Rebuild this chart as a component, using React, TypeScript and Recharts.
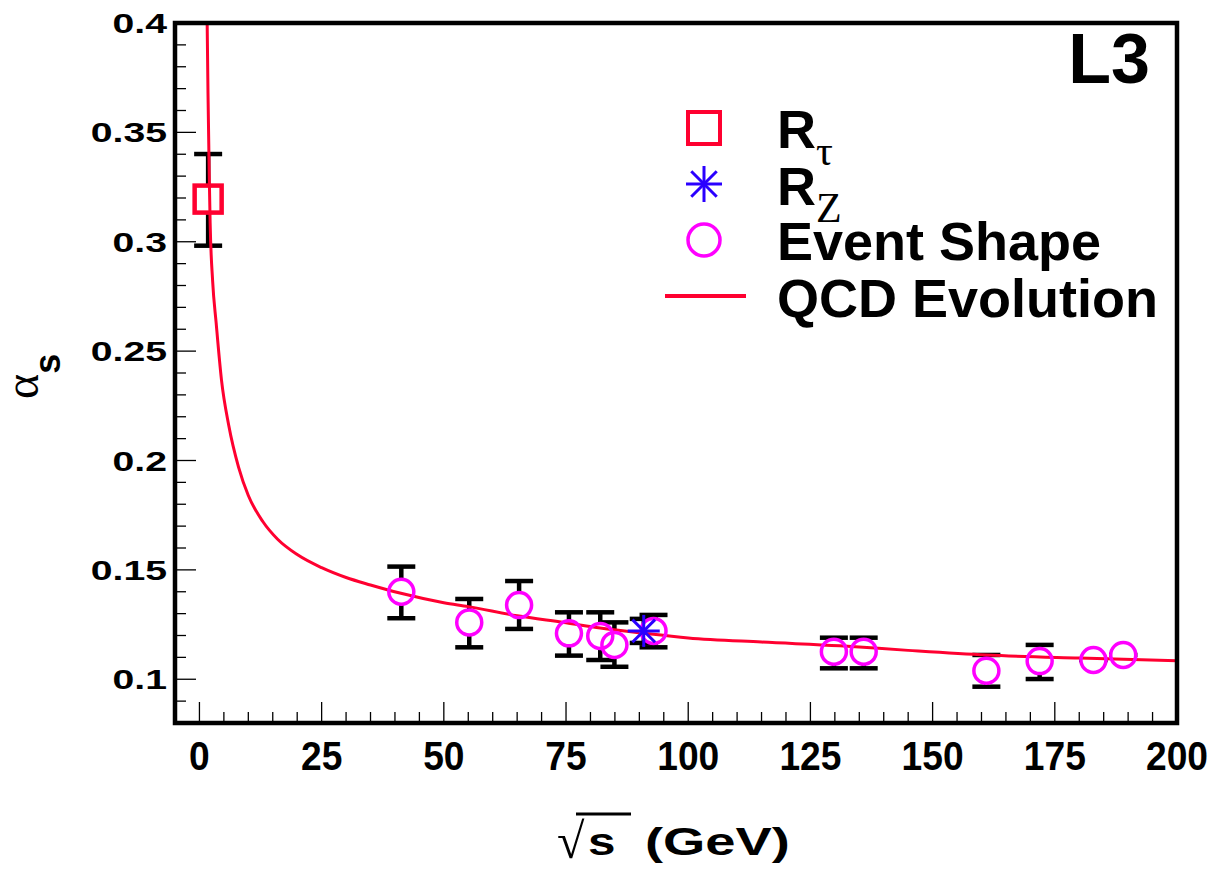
import { ComposedChart, Line, Scatter, XAxis, YAxis, ErrorBar, ReferenceArea, Legend, Label } from 'recharts';

const W = 1211;
const H = 874;
const PLOT_L = 175;
const PLOT_T = 23;
const PLOT_R = 1177;
const PLOT_B = 723;

const SANS = '"Liberation Sans", Arial, Helvetica, sans-serif';
const SERIF = '"Liberation Serif", "Times New Roman", serif';

const RED = '#ff0030';
const BLUE = '#2a00ff';
const MAGENTA = '#ff00ff';

// R_tau point
const tauX = [1.78];
const tauY = [0.3195];
const tauErrLo = [0.0213];
const tauErrHi = [0.0206];

// R_Z point
const rzX = [90.9];
const rzY = [0.1221];
const rzErrLo = [0.0055];
const rzErrHi = [0.0055];

// event shape points
const esX = [41.3, 55.2, 65.4, 75.6, 82.0, 84.9, 92.9, 129.8, 135.9, 161.0, 171.9, 182.9, 189.0];
const esY = [0.140, 0.126, 0.1339, 0.121, 0.1198, 0.1157, 0.1221, 0.1126, 0.1126, 0.1039, 0.1083, 0.1088, 0.1111];
const esErrHi = [0.0115, 0.0107, 0.011, 0.0096, 0.0108, 0.0103, 0.0073, 0.0064, 0.0064, 0.0072, 0.0074, 0, 0];
const esErrLo = [0.0121, 0.0114, 0.0109, 0.0102, 0.011, 0.01, 0.0075, 0.0076, 0.0076, 0.0073, 0.0082, 0, 0];

// QCD evolution curve
const qcdX = [1.58, 1.75, 2.0, 2.19, 2.7, 3.42, 4.5, 6, 8, 10, 13, 16, 20, 25, 30, 35, 41, 50, 55, 65, 75, 82, 91, 100, 115, 131, 145, 161, 180, 200];
const qcdY = [0.4, 0.368, 0.331, 0.3086, 0.282, 0.2629, 0.237, 0.216, 0.197, 0.184, 0.172, 0.164, 0.157, 0.151, 0.1465, 0.1431, 0.1394, 0.135, 0.1332, 0.129, 0.1258, 0.1234, 0.121, 0.1189, 0.117, 0.1153, 0.1132, 0.1111, 0.1097, 0.1085];

// axes
const X_DOMAIN = [-5, 200];
const Y_DOMAIN = [0.08, 0.4];
const X_LABELS = ['0', '25', '50', '75', '100', '125', '150', '175', '200'];
const Y_LABELS = ['0.1', '0.15', '0.2', '0.25', '0.3', '0.35', '0.4'];

const xTicks: number[] = [];
for (let v = 0; v <= 200; v += 5) xTicks.push(v);
const yTicks: number[] = [];
for (let i = 9; i <= 40; i++) yTicks.push(i / 100);

const tauData = tauX.map((x, i) => ({ x, y: tauY[i], err: [tauErrLo[i], tauErrHi[i]] }));
const rzData = rzX.map((x, i) => ({ x, y: rzY[i], err: [rzErrLo[i], rzErrHi[i]] }));
const esData = esX.map((x, i) => ({ x, y: esY[i], err: [esErrLo[i], esErrHi[i]] }));
const qcdData = qcdX.map((x, i) => ({ x, y: qcdY[i] }));

const XTick = (props: any) => {
  const { x, payload } = props;
  const v = payload.value;
  const major = v % 25 === 0;
  const label = X_LABELS.find((l) => Number(l) === v);
  return (
    <g>
      <line x1={x} x2={x} y1={PLOT_B} y2={PLOT_B - (major ? 21 : 11)} stroke="#000" strokeWidth={1.3} />
      {major && label && (
        <text
          transform={`translate(${x}, 770) scale(0.93, 1)`}
          textAnchor="middle"
          fontSize={40}
          fontWeight="bold"
          fontFamily={SANS}
          fill="#000"
        >
          {label}
        </text>
      )}
    </g>
  );
};

const YTick = (props: any) => {
  const { y, payload } = props;
  const v = Math.round(payload.value * 100) / 100;
  const label = Y_LABELS.find((l) => Math.abs(Number(l) - v) < 1e-6);
  return (
    <g>
      <line x1={PLOT_L} x2={PLOT_L + (label ? 21 : 11)} y1={y} y2={y} stroke="#000" strokeWidth={1.3} />
      {label && (
        <text
          transform={`translate(167, ${y + 10}) scale(1.4, 1)`}
          textAnchor="end"
          fontSize={28}
          fontWeight="bold"
          fontFamily={SANS}
          fill="#000"
        >
          {label}
        </text>
      )}
    </g>
  );
};

const Star = ({ cx, cy, a, sw }: { cx: number; cy: number; a: number; sw: number }) => {
  const d = a * 0.7071;
  return (
    <g stroke={BLUE} strokeWidth={sw}>
      <line x1={cx - a} x2={cx + a} y1={cy} y2={cy} />
      <line x1={cx} x2={cx} y1={cy - a} y2={cy + a} />
      <line x1={cx - d} x2={cx + d} y1={cy - d} y2={cy + d} />
      <line x1={cx - d} x2={cx + d} y1={cy + d} y2={cy - d} />
    </g>
  );
};

const LegendBox = () => (
  <svg width={530} height={310} style={{ overflow: 'visible', display: 'block' }}>
    <text x={500} y={63} textAnchor="end" fontSize={70} fontWeight="bold" fontFamily={SANS} fill="#000">
      L3
    </text>
    <rect x={38} y={92} width={32} height={32} fill="none" stroke={RED} strokeWidth={4} />
    <Star cx={54} cy={164} a={18} sw={3} />
    <circle cx={54} cy={220} r={16} fill="none" stroke={MAGENTA} strokeWidth={3.5} />
    <line x1={15} x2={96} y1={276} y2={276} stroke={RED} strokeWidth={4} />
    <g fontFamily={SANS} fontWeight="bold" fontSize={54} fill="#000">
      <text x={127} y={128}>
        R
        <tspan fontFamily={SERIF} fontWeight="normal" fontSize={42} dy={17}>
          τ
        </tspan>
      </text>
      <text x={127} y={185}>
        R
        <tspan fontFamily={SERIF} fontWeight="normal" fontSize={42} dy={17}>
          Z
        </tspan>
      </text>
      <text x={127} y={240}>Event Shape</text>
      <text x={127} y={297}>QCD Evolution</text>
    </g>
  </svg>
);

const YTitle = () => (
  <text transform="translate(38, 399) rotate(-90)" fill="#000">
    <tspan fontFamily={SERIF} fontSize={48}>
      α
    </tspan>
    <tspan fontFamily={SANS} fontWeight="bold" fontSize={36} dy={22}>
      s
    </tspan>
  </text>
);

const XTitle = () => (
  <g fill="#000">
    <text x={557} y={858} fontFamily={SERIF} fontSize={50}>
      √
    </text>
    <line x1={576} x2={631} y1={814} y2={814} stroke="#000" strokeWidth={3} />
    <text transform="translate(588, 855) scale(1.3, 1)" fontFamily={SANS} fontWeight="bold" fontSize={38}>
      s
    </text>
    <text transform="translate(645, 855) scale(1.43, 1)" fontFamily={SANS} fontWeight="bold" fontSize={38}>
      (GeV)
    </text>
  </g>
);

const noShape = () => <g />;

export default function App() {
  return (
    <div style={{ position: 'absolute', left: 0, top: 0, width: W, height: H, background: '#fff' }}>
      <ComposedChart
        width={W}
        height={H}
        margin={{ top: PLOT_T, right: W - PLOT_R, left: PLOT_L - 100, bottom: H - PLOT_B - 60 }}
      >
        <XAxis
          type="number"
          dataKey="x"
          domain={X_DOMAIN}
          allowDataOverflow
          ticks={xTicks}
          interval={0}
          tick={<XTick />}
          tickLine={false}
          tickSize={0}
          tickMargin={0}
          axisLine={false}
          height={60}
        >
          <Label content={<XTitle />} />
        </XAxis>
        <YAxis
          type="number"
          dataKey="y"
          domain={Y_DOMAIN}
          allowDataOverflow
          ticks={yTicks}
          interval={0}
          tick={<YTick />}
          tickLine={false}
          tickSize={0}
          tickMargin={0}
          axisLine={false}
          width={100}
        >
          <Label content={<YTitle />} />
        </YAxis>

        <Scatter data={esData} shape={noShape} isAnimationActive={false} zIndex={100}>
          <ErrorBar dataKey="err" direction="y" width={14} stroke="#000" strokeWidth={4.5} isAnimationActive={false} zIndex={100} />
        </Scatter>
        <Scatter data={tauData} shape={noShape} isAnimationActive={false} zIndex={100}>
          <ErrorBar dataKey="err" direction="y" width={14} stroke="#000" strokeWidth={4.5} isAnimationActive={false} zIndex={100} />
        </Scatter>
        <Scatter data={rzData} shape={noShape} isAnimationActive={false} zIndex={100}>
          <ErrorBar dataKey="err" direction="y" width={14} stroke="#000" strokeWidth={4.5} isAnimationActive={false} zIndex={100} />
        </Scatter>

        <Scatter
          data={esData}
          isAnimationActive={false}
          zIndex={200}
          shape={(p: any) => <circle cx={p.cx} cy={p.cy} r={12.5} fill="#fff" />}
        />
        <Scatter
          data={tauData}
          isAnimationActive={false}
          zIndex={200}
          shape={(p: any) => <rect x={p.cx - 14} y={p.cy - 14} width={28} height={28} fill="#fff" />}
        />

        <Line
          data={qcdData}
          dataKey="y"
          type="monotone"
          stroke={RED}
          strokeWidth={3}
          dot={false}
          activeDot={false}
          isAnimationActive={false}
          zIndex={300}
        />

        <Scatter
          data={esData}
          isAnimationActive={false}
          zIndex={400}
          shape={(p: any) => <circle cx={p.cx} cy={p.cy} r={12.5} fill="none" stroke={MAGENTA} strokeWidth={3.5} />}
        />
        <Scatter
          data={rzData}
          isAnimationActive={false}
          zIndex={400}
          shape={(p: any) => <Star cx={p.cx} cy={p.cy} a={16} sw={3} />}
        />
        <Scatter
          data={tauData}
          isAnimationActive={false}
          zIndex={400}
          shape={(p: any) => (
            <rect x={p.cx - 13.5} y={p.cy - 13.5} width={27} height={27} fill="none" stroke={RED} strokeWidth={4.5} />
          )}
        />

        <ReferenceArea
          x1={X_DOMAIN[0]}
          x2={X_DOMAIN[1]}
          y1={Y_DOMAIN[0]}
          y2={Y_DOMAIN[1]}
          fill="none"
          fillOpacity={0}
          stroke="#000"
          strokeWidth={4.5}
          ifOverflow="visible"
          zIndex={500}
        />

        <Legend
          layout="vertical"
          align="center"
          verticalAlign="middle"
          wrapperStyle={{ left: 650, top: 20, width: 530, height: 310 }}
          content={() => <LegendBox />}
        />
      </ComposedChart>
    </div>
  );
}
